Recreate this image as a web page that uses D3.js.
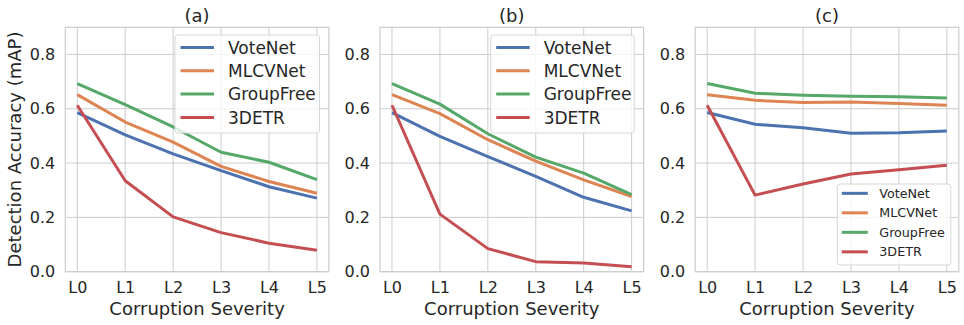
<!DOCTYPE html>
<html><head><meta charset="utf-8">
<script src="https://cdn.jsdelivr.net/npm/d3@7"></script>
<style>
html,body{margin:0;padding:0;background:#fff;}
text{font-family:"DejaVu Sans",sans-serif;fill:#262626;}
</style></head>
<body><svg id="chart" width="964" height="325"></svg>
<script>
const levels = ["L0","L1","L2","L3","L4","L5"];
const seriesNames = ["VoteNet","MLCVNet","GroupFree","3DETR"];
const colors = ["#4c72b0","#dd8452","#55a868","#c44e52"];
const yTicks = [0.0,0.2,0.4,0.6,0.8];
const panelTitles = ["(a)","(b)","(c)"];

const panelA_VoteNet   = [0.586,0.504,0.434,0.372,0.313,0.271];
const panelA_MLCVNet   = [0.652,0.551,0.477,0.388,0.332,0.289];
const panelA_GroupFree = [0.693,0.615,0.533,0.440,0.403,0.339];
const panelA_3DETR     = [0.613,0.335,0.202,0.144,0.105,0.079];

const panelB_VoteNet   = [0.586,0.498,0.424,0.351,0.274,0.224];
const panelB_MLCVNet   = [0.652,0.582,0.486,0.407,0.338,0.277];
const panelB_GroupFree = [0.693,0.617,0.508,0.422,0.363,0.284];
const panelB_3DETR     = [0.613,0.212,0.085,0.037,0.032,0.018];

const panelC_VoteNet   = [0.586,0.543,0.530,0.510,0.512,0.518];
const panelC_MLCVNet   = [0.652,0.631,0.623,0.625,0.619,0.613];
const panelC_GroupFree = [0.693,0.657,0.650,0.646,0.644,0.640];
const panelC_3DETR     = [0.613,0.282,0.323,0.360,0.375,0.392];

const panels = [
  [panelA_VoteNet,panelA_MLCVNet,panelA_GroupFree,panelA_3DETR],
  [panelB_VoteNet,panelB_MLCVNet,panelB_GroupFree,panelB_3DETR],
  [panelC_VoteNet,panelC_MLCVNet,panelC_GroupFree,panelC_3DETR]
];

const svg = d3.select("#chart");
const lefts = [65.3, 380, 695.2];
const W = 263.6, plotTop = 27.3, plotBottom = 271.7;
const legendCfg = [
  {x:175, y:35, w:144.5, h:98, fs:17, row:23.3, l0:5.5, l1:39, tx:53},
  {x:490.7, y:35, w:143.5, h:98, fs:17, row:23.3, l0:5.5, l1:39, tx:53},
  {x:837.3, y:184, w:113.5, h:81, fs:12.7, row:19.5, l0:4.5, l1:30.5, tx:42}
];

panels.forEach((data, pi) => {
  const x0 = lefts[pi];
  const x = d3.scaleLinear().domain([-0.25, 5.25]).range([x0, x0 + W]);
  const y = d3.scaleLinear().domain([0, 0.9]).range([plotBottom, plotTop]);
  const g = svg.append("g");

  g.append("g").selectAll("line").data(levels).join("line")
    .attr("x1",(d,i)=>x(i)).attr("x2",(d,i)=>x(i))
    .attr("y1",plotTop).attr("y2",plotBottom)
    .attr("stroke","#cccccc").attr("stroke-width",1);
  g.append("g").selectAll("line").data(yTicks).join("line")
    .attr("x1",x0).attr("x2",x0+W)
    .attr("y1",d=>y(d)).attr("y2",d=>y(d))
    .attr("stroke","#cccccc").attr("stroke-width",1);

  const xAxis = d3.axisBottom(x).tickValues(d3.range(levels.length))
    .tickFormat(i=>levels[i]).tickSize(0).tickPadding(10);
  const xa = g.append("g").attr("transform",`translate(0,${plotBottom})`).call(xAxis);
  xa.select(".domain").remove();
  xa.selectAll("text").attr("font-size",16).attr("fill","#262626")
    .attr("font-family","DejaVu Sans");

  const yAxis = d3.axisLeft(y).tickValues(yTicks).tickFormat(d3.format(".1f"))
    .tickSize(0).tickPadding(10);
  const ya = g.append("g").attr("transform",`translate(${x0},0)`).call(yAxis);
  ya.select(".domain").remove();
  ya.selectAll("text").attr("font-size",16).attr("fill","#262626")
    .attr("font-family","DejaVu Sans");

  g.append("rect").attr("x",x0).attr("y",plotTop).attr("width",W).attr("height",plotBottom-plotTop)
    .attr("fill","none").attr("stroke","#cccccc").attr("stroke-width",1.2);

  const line = d3.line().x((d,i)=>x(i)).y(d=>y(d));
  data.forEach((s, si) => {
    g.append("path").datum(s).attr("d",line)
      .attr("fill","none").attr("stroke",colors[si]).attr("stroke-width",3)
      .attr("stroke-linejoin","round").attr("stroke-linecap","butt");
  });

  g.append("text").attr("x",x0+W/2).attr("y",21.5).attr("text-anchor","middle")
    .attr("font-size",18).text(panelTitles[pi]);

  g.append("text").attr("x",x0+W/2).attr("y",314.5).attr("text-anchor","middle")
    .attr("font-size",18).text("Corruption Severity");

  const L = legendCfg[pi];
  const lg = g.append("g");
  lg.append("rect").attr("x",L.x).attr("y",L.y).attr("width",L.w).attr("height",L.h)
    .attr("rx",3).attr("fill","rgba(255,255,255,0.8)").attr("stroke","#d6d6d6").attr("stroke-width",1);
  seriesNames.forEach((n, si) => {
    const cy = L.y + 12.5*(L.fs/17) + si*L.row;
    lg.append("line").attr("x1",L.x+L.l0).attr("x2",L.x+L.l1)
      .attr("y1",cy).attr("y2",cy).attr("stroke",colors[si]).attr("stroke-width",3);
    lg.append("text").attr("x",L.x+L.tx).attr("y",cy).attr("dy","0.36em")
      .attr("font-size",L.fs).text(n);
  });
});

svg.append("text").attr("transform",`translate(21,${(plotTop+plotBottom)/2}) rotate(-90)`)
  .attr("text-anchor","middle").attr("font-size",18).text("Detection Accuracy (mAP)");
</script>
</body></html>
